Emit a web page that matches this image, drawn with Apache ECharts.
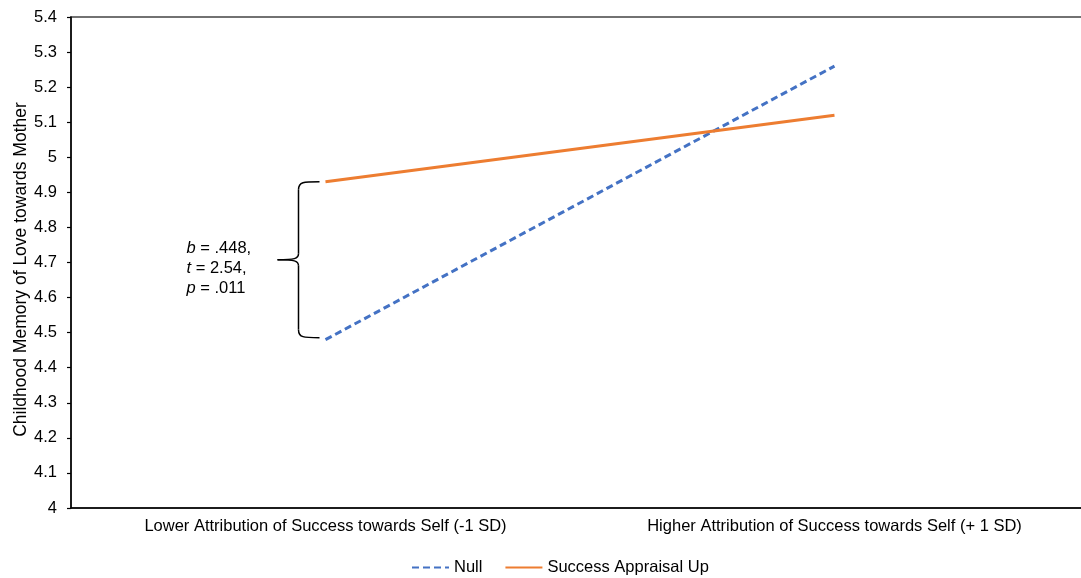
<!DOCTYPE html>
<html>
<head>
<meta charset="utf-8">
<script src="https://cdn.jsdelivr.net/npm/echarts@6/dist/echarts.min.js"></script>
<style>
html,body{margin:0;padding:0;background:#fff;}
#chart{width:1081px;height:578px;}
</style>
</head>
<body>
<div id="chart"></div>
<script>
const categories = ['Lower Attribution of Success towards Self (-1 SD)', 'Higher Attribution of Success towards Self (+ 1 SD)'];
const nullValues = [4.48, 5.26];
const successValues = [4.93, 5.12];
const seriesNames = ['Null', 'Success Appraisal Up'];
const yAxisTitle = 'Childhood Memory of Love towards Mother';
const annotationLines = [['b', ' = .448,'], ['t', ' = 2.54,'], ['p', ' = .011']];

const FONT = '"Liberation Sans", Arial, sans-serif';
const FS = 16.5;
const chart = echarts.init(document.getElementById('chart'));
chart.setOption({
  animation: false,
  backgroundColor: '#fff',
  textStyle: { fontFamily: FONT },
  grid: { left: 71, top: 17, right: -8, bottom: 70, show: true, borderColor: '#444', borderWidth: 1.5,
          containLabel: false, outerBoundsMode: 'none' },
  legend: {
    bottom: -3, left: 406,
    itemWidth: 37, itemHeight: 14, itemGap: 22,
    itemStyle: { opacity: 0 },
    textStyle: { fontSize: FS, color: '#000', fontFamily: FONT },
    data: seriesNames
  },
  xAxis: {
    type: 'category', data: categories, boundaryGap: true,
    axisLine: { lineStyle: { color: '#000', width: 1.5 } },
    axisTick: { show: false },
    axisLabel: { fontSize: FS, color: '#000', margin: 10, fontFamily: FONT }
  },
  yAxis: {
    type: 'value', min: 4, max: 5.4, interval: 0.1,
    name: yAxisTitle, nameLocation: 'middle', nameGap: 41, nameRotate: 90, nameMoveOverlap: false,
    nameTextStyle: { fontSize: 17.5, color: '#000', fontFamily: FONT, padding: [0, 14, 0, 0] },
    axisLine: { show: true, lineStyle: { color: '#000', width: 1.5 } },
    axisTick: { show: true, inside: false, length: 4, lineStyle: { color: '#000', width: 1.2 } },
    splitLine: { show: false },
    axisLabel: { fontSize: FS, color: '#000', margin: 14, fontFamily: FONT,
      formatter: v => String(Math.round(v * 10) / 10) }
  },
  series: [
    { name: seriesNames[0], type: 'line', data: nullValues, symbol: 'none',
      lineStyle: { color: '#4472C4', width: 3, type: [7, 4] }, itemStyle: { color: '#4472C4' } },
    { name: seriesNames[1], type: 'line', data: successValues, symbol: 'none',
      lineStyle: { color: '#ED7D31', width: 3 }, itemStyle: { color: '#ED7D31' } }
  ]
});

function drawBrace() {
  const pTop = chart.convertToPixel({ seriesIndex: 1 }, [0, successValues[0]]);
  const pBot = chart.convertToPixel({ seriesIndex: 0 }, [0, nullValues[0]]);
  const x0 = pTop[0] - 27;
  const yT = pTop[1], yB = pBot[1] - 2, yM = (yT + yB) / 2;
  const st = { fill: null, stroke: '#000', lineWidth: 1.5 };
  const bez = (x1, y1, cx1, cy1, cx2, cy2, x2, y2) => ({ type: 'bezierCurve', shape: { x1, y1, cpx1: cx1, cpy1: cy1, cpx2: cx2, cpy2: cy2, x2, y2 }, style: st });
  const ln = (x1, y1, x2, y2) => ({ type: 'line', shape: { x1, y1, x2, y2 }, style: st });
  const rich = { i: { fontStyle: 'italic', fontSize: FS, fontFamily: FONT, color: '#000', lineHeight: 20 },
                 n: { fontSize: FS, fontFamily: FONT, color: '#000', lineHeight: 20 } };
  const textStr = annotationLines.map(l => `{i|${l[0]}}{n|${l[1]}}`).join('\n');
  chart.setOption({
    graphic: [
      bez(x0 + 21, yT, x0 + 5, yT, x0, yT, x0, yT + 8),
      ln(x0, yT + 8, x0, yM - 6),
      bez(x0, yM - 6, x0, yM - 1, x0 - 4, yM, x0 - 21, yM),
      bez(x0 - 21, yM, x0 - 4, yM, x0, yM + 1, x0, yM + 6),
      ln(x0, yM + 6, x0, yB - 8),
      bez(x0, yB - 8, x0, yB, x0 + 5, yB, x0 + 21, yB),
      { type: 'text', x: x0 - 112, y: yM + 9, style: { text: textStr, rich: rich, verticalAlign: 'middle', align: 'left' } }
    ]
  });
}
drawBrace();
</script>
</body>
</html>
